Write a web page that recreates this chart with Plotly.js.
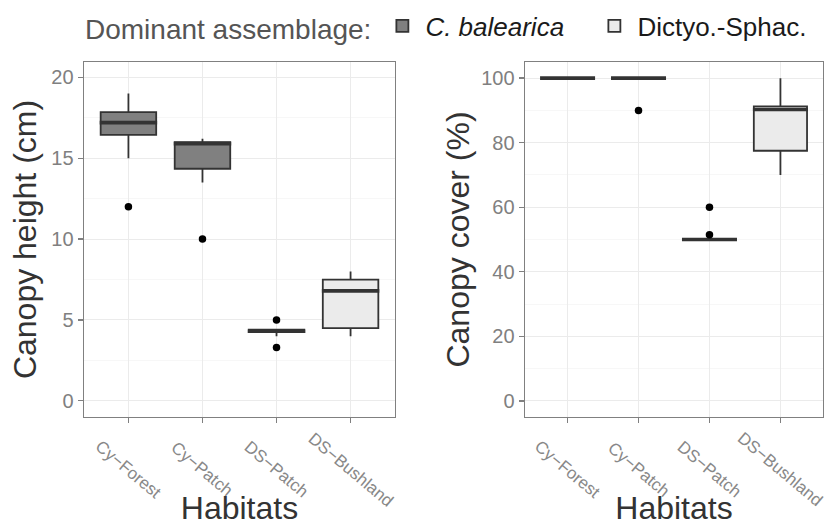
<!DOCTYPE html>
<html>
<head>
<meta charset="utf-8">
<script src="https://cdn.plot.ly/plotly-3.0.1.min.js"></script>
<style>html,body{margin:0;padding:0;background:#fff;}#chart{width:825px;height:526px;}</style>
</head>
<body>
<div id="chart"></div>
<script>
// ---- data ----
const habitats = ['Cy\u2212Forest', 'Cy\u2212Patch', 'DS\u2212Patch', 'DS\u2212Bushland'];
const assemblage = ['C. balearica', 'C. balearica', 'C. balearica', 'Dictyo.-Sphac.'];

// Canopy height (cm) box statistics
const heightLower  = [15.0, 13.5, 4.0, 4.0];
const heightQ1     = [16.45, 14.35, 4.25, 4.5];
const heightMedian = [17.2, 15.9, 4.3, 6.8];
const heightQ3     = [17.85, 16.0, 4.4, 7.5];
const heightUpper  = [19.0, 16.2, 4.4, 8.0];
const heightOutHab = ['Cy\u2212Forest', 'Cy\u2212Patch', 'DS\u2212Patch', 'DS\u2212Patch'];
const heightOutVal = [12, 10, 5.0, 3.3];

// Canopy cover (%) box statistics
const coverLower  = [100, 100, 50, 70];
const coverQ1     = [100, 100, 50, 77.5];
const coverMedian = [100, 100, 50, 90.3];
const coverQ3     = [100, 100, 50, 91.25];
const coverUpper  = [100, 100, 50, 100];
const coverOutHab = ['Cy\u2212Patch', 'DS\u2212Patch', 'DS\u2212Patch'];
const coverOutVal = [90, 60, 51.5];

const groups = ['C. balearica', 'Dictyo.-Sphac.'];
const groupLabels = ['<i>C. balearica</i>', 'Dictyo.-Sphac.'];
const groupFill = ['#808080', '#ebebeb'];
const groupLegendWidth = [161, 168];

// ---- build traces ----
const traces = [];
function pick(arr, g) { return arr.filter((_, i) => assemblage[i] === g); }

function addPanel(xa, ya, lower, q1, med, q3, upper, outHab, outVal, showLeg, medSize) {
  groups.forEach((g, gi) => {
    traces.push({
      type: 'box', name: groupLabels[gi], legendgroup: g, showlegend: showLeg,
      legendwidth: groupLegendWidth[gi],
      xaxis: xa, yaxis: ya,
      x: pick(habitats, g),
      lowerfence: pick(lower, g), q1: pick(q1, g), median: pick(med, g),
      q3: pick(q3, g), upperfence: pick(upper, g),
      boxpoints: false, width: 0.75, whiskerwidth: 0,
      fillcolor: groupFill[gi], line: {color: '#333333', width: 1.8},
      hoverinfo: 'skip'
    });
  });
  // thicker median bars (ggplot style)
  traces.push({
    type: 'scatter', mode: 'markers', xaxis: xa, yaxis: ya, showlegend: false,
    x: habitats, y: med,
    marker: {symbol: 'line-ew', size: medSize, line: {color: '#333333', width: 3.6}},
    hoverinfo: 'skip'
  });
  // outliers
  traces.push({
    type: 'scatter', mode: 'markers', xaxis: xa, yaxis: ya, showlegend: false,
    x: outHab, y: outVal,
    marker: {color: '#000000', size: 7.5},
    hoverinfo: 'skip'
  });
}
addPanel('x', 'y', heightLower, heightQ1, heightMedian, heightQ3, heightUpper, heightOutHab, heightOutVal, true, 41);
addPanel('x2', 'y2', coverLower, coverQ1, coverMedian, coverQ3, coverUpper, coverOutHab, coverOutVal, false, 39.3);

// ---- layout ----
const W = 825, H = 526;
const yDom = [(H - 417) / H, (H - 62) / H];
const gridC = '#ebebeb', borderC = '#808080';

function xAxis(dom, anchor) {
  return {
    domain: dom, anchor: anchor, type: 'category',
    categoryorder: 'array', categoryarray: habitats, range: [-0.6, 3.6],
    showline: true, mirror: true, linecolor: borderC, linewidth: 1.4,
    ticks: 'outside', ticklen: 5, tickcolor: borderC, tickwidth: 1.3,
    showticklabels: false,
    showgrid: true, gridcolor: gridC, gridwidth: 1, zeroline: false,
    title: {text: 'Habitats', font: {size: 32, color: '#333333'}, standoff: 76}
  };
}
function yAxis(dom, anchor, range, dtick, mdtick, title, standoff) {
  return {
    domain: dom, anchor: anchor, range: range, dtick: dtick, tick0: 0,
    showline: true, mirror: true, linecolor: borderC, linewidth: 1.4,
    ticks: 'outside', ticklen: 5, tickcolor: borderC, tickwidth: 1.3,
    tickfont: {size: 20, color: '#808080'},
    showgrid: true, gridcolor: gridC, gridwidth: 1, zeroline: false,
    minor: {dtick: mdtick, tick0: 0, showgrid: true, gridcolor: '#f3f3f3', gridwidth: 0.7},
    title: {text: title, font: {size: 32, color: '#333333'}, standoff: standoff}
  };
}

const annotations = [];
['x', 'x2'].forEach(xr => {
  habitats.forEach(h => {
    annotations.push({
      x: h, xref: xr, y: (H - 469) / H, yref: 'paper',
      text: h, textangle: 40, showarrow: false,
      xanchor: 'center', yanchor: 'middle',
      font: {size: 17, color: '#888888'}
    });
  });
});

const layout = {
  width: W, height: H,
  margin: {l: 0, r: 0, t: 0, b: 0},
  paper_bgcolor: '#ffffff', plot_bgcolor: '#ffffff',
  font: {family: 'Liberation Sans, Arial, sans-serif'},
  boxmode: 'overlay',
  xaxis: xAxis([84 / W, 395 / W], 'y'),
  xaxis2: xAxis([525 / W, 823 / W], 'y2'),
  yaxis: yAxis(yDom, 'x', [-1, 20.95], 5, 2.5, 'Canopy height (cm)', 5),
  yaxis2: yAxis(yDom, 'x2', [-5, 105], 20, 10, 'Canopy cover (%)', 2),
  showlegend: true,
  legend: {
    orientation: 'h', x: 83 / W, xanchor: 'left', y: (H - 26) / H, yanchor: 'middle',
    bgcolor: 'rgba(0,0,0,0)', font: {size: 26, color: '#1a1a1a'},
    title: {text: 'Dominant assemblage:', side: 'left', font: {size: 28, color: '#555555'}},
    itemwidth: 36, entrywidthmode: 'pixels', traceorder: 'normal'
  },
  annotations: annotations
};

Plotly.newPlot('chart', traces, layout, {displayModeBar: false, staticPlot: true});
</script>
</body>
</html>
